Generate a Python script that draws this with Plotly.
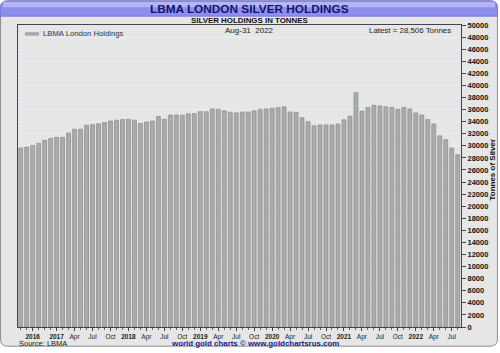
import plotly.graph_objects as go
import pandas as pd

# ---------------- data ----------------
months = pd.period_range("2016-07", "2022-08", freq="M").strftime("%Y-%m").tolist()
holdings = [
    29650, 29800, 30050, 30400, 30900, 31200, 31400, 31400, 32100, 32750, 32750, 33400,   # 2016-07 .. 2017-06
    33500, 33650, 33850, 34100, 34250, 34350, 34400, 34250, 33700, 33950, 34100, 34850,   # 2017-07 .. 2018-06
    34400, 35100, 35100, 35050, 35300, 35350, 35650, 35650, 36100, 36050, 35800, 35550,   # 2018-07 .. 2019-06
    35450, 35600, 35600, 35800, 36050, 36100, 36200, 36300, 36450, 35600, 35550, 34650,   # 2019-07 .. 2020-06
    34000, 33300, 33450, 33450, 33450, 33600, 34300, 34900, 38800, 35750, 36350, 36700,   # 2020-07 .. 2021-06
    36600, 36450, 36350, 36050, 36350, 36100, 35450, 35100, 34350, 33600, 31650, 31000,   # 2021-07 .. 2022-06
    29650, 28506,                                                                         # 2022-07 .. 2022-08
]
tick_months = ["2016-09", "2017-01", "2017-04", "2017-07", "2017-10",
               "2018-01", "2018-04", "2018-07", "2018-10",
               "2019-01", "2019-04", "2019-07", "2019-10",
               "2020-01", "2020-04", "2020-07", "2020-10",
               "2021-01", "2021-04", "2021-07", "2021-10",
               "2022-01", "2022-04", "2022-07"]
tick_labels = ["2016", "2017", "Apr", "Jul", "Oct",
               "2018", "Apr", "Jul", "Oct",
               "2019", "Apr", "Jul", "Oct",
               "2020", "Apr", "Jul", "Oct",
               "2021", "Apr", "Jul", "Oct",
               "2022", "Apr", "Jul"]
y_ticks = list(range(0, 50001, 2000))

# ---------------- geometry helpers ----------------
W, H = 500, 353
ML, MR, MT, MB = 18, 38, 25, 21
PW, PH = W - ML - MR, H - MT - MB


def px(x):
    return (x - ML) / PW


def py(y):
    return (H - MB - y) / PH


x_idx = list(range(len(months)))
tickvals = [months.index(m) for m in tick_months]
ticktext = [f"<b>{t}</b>" if t.isdigit() else t for t in tick_labels]

fig = go.Figure()
fig.add_trace(go.Bar(
    x=x_idx, y=holdings,
    marker=dict(color="#ababab", line=dict(color="#8a8a8a", width=0.7)),
    width=0.66,
    name="LBMA London Holdings",
    showlegend=False,
    hovertemplate="%{y:,} t<extra></extra>",
))

FONT = "Liberation Sans, Arial, sans-serif"

fig.update_layout(
    width=W, height=H,
    margin=dict(l=ML, r=MR, t=MT, b=MB, pad=0),
    paper_bgcolor="white",
    plot_bgcolor="white",
    font=dict(family=FONT, size=8, color="#222"),
    bargap=0.34,
    xaxis=dict(
        range=[-0.45, len(months) - 0.45],
        tickmode="array", tickvals=tickvals, ticktext=ticktext,
        tickfont=dict(size=6.5, color="#222"),
        ticks="outside", ticklen=3, tickcolor="#444",
        showgrid=False,
        minor=dict(dtick=1, tick0=0, ticks="outside", ticklen=2, tickcolor="#666",
                   showgrid=False),
        showline=True, linecolor="#444", linewidth=1, mirror=True,
        zeroline=False,
    ),
    yaxis=dict(
        side="right",
        range=[0, 50000],
        tickmode="array", tickvals=y_ticks, ticktext=[str(v) for v in y_ticks],
        tickfont=dict(size=7.5, color="#111", weight="bold"),
        ticks="outside", ticklen=4, tickcolor="#444",
        showgrid=True, gridcolor="#e2eff7", gridwidth=1,
        showline=True, linecolor="#444", linewidth=1, mirror=True,
        zeroline=False,
    ),
)

shapes = []
# outer rounded frame
r = 7
x0, x1, y0, y1 = 0.5, W - 1.5, 0.5, H - 1.5
path = (f"M {px(x0 + r)},{py(y0)} L {px(x1 - r)},{py(y0)} Q {px(x1)},{py(y0)} {px(x1)},{py(y0 + r)} "
        f"L {px(x1)},{py(y1 - r)} Q {px(x1)},{py(y1)} {px(x1 - r)},{py(y1)} "
        f"L {px(x0 + r)},{py(y1)} Q {px(x0)},{py(y1)} {px(x0)},{py(y1 - r)} "
        f"L {px(x0)},{py(y0 + r)} Q {px(x0)},{py(y0)} {px(x0 + r)},{py(y0)} Z")
shapes.append(dict(type="path", xref="paper", yref="paper", path=path,
                   fillcolor="#e6e6e6", line=dict(color="#8c8c8c", width=1), layer="below"))
# banner (pseudo-gradient)
bpath = (f"M {px(x0 + r)},{py(y0)} L {px(x1 - r)},{py(y0)} Q {px(x1)},{py(y0)} {px(x1)},{py(y0 + r)} "
         f"L {px(x1)},{py(16)} L {px(x0)},{py(16)} L {px(x0)},{py(y0 + r)} "
         f"Q {px(x0)},{py(y0)} {px(x0 + r)},{py(y0)} Z")
shapes.append(dict(type="path", xref="paper", yref="paper", path=bpath,
                   fillcolor="#8e8ef0", line=dict(color="#7a7ad8", width=1), layer="below"))
shapes.append(dict(type="rect", xref="paper", yref="paper",
                   x0=px(3), x1=px(W - 4), y0=py(7), y1=py(1.5),
                   fillcolor="#b4b4f6", line=dict(width=0), layer="below"))
# legend swatch
shapes.append(dict(type="line", xref="paper", yref="paper",
                   x0=px(25), x1=px(39), y0=py(34), y1=py(34),
                   line=dict(color="#a8a8a8", width=3.5)))
fig.update_layout(shapes=shapes)

ann = [
    dict(text="<b>LBMA LONDON SILVER HOLDINGS</b>", x=px(250), y=py(8.5),
         font=dict(size=11.8, color="#14146e")),
    dict(text="<b>SILVER HOLDINGS IN TONNES</b>", x=px(250), y=py(20.5),
         font=dict(size=7.9, color="#111")),
    dict(text="Aug-31  2022", x=px(250), y=py(30.5),
         font=dict(size=8, color="#222")),
    dict(text="Latest = 28,506 Tonnes", x=px(454), y=py(31), xanchor="right",
         font=dict(size=7.9, color="#222")),
    dict(text="LBMA London Holdings", x=px(41.5), y=py(33.5), xanchor="left",
         font=dict(size=7.7, color="#333")),
    dict(text="<b>Tonnes of Silver</b>", x=px(494), y=py(172), textangle=-90,
         font=dict(size=8, color="#111")),
    dict(text="Source: LBMA", x=px(16.5), y=py(349), xanchor="left",
         font=dict(size=7.5, color="#222")),
    dict(text="<b>world gold charts © www.goldchartsrus.com</b>", x=px(256), y=py(349),
         font=dict(size=7.9, color="#1a1a8c")),
]
for a in ann:
    a.setdefault("xanchor", "center")
    a.update(xref="paper", yref="paper", yanchor="middle", showarrow=False)
fig.update_layout(annotations=ann)

fig.write_html("out.html")
